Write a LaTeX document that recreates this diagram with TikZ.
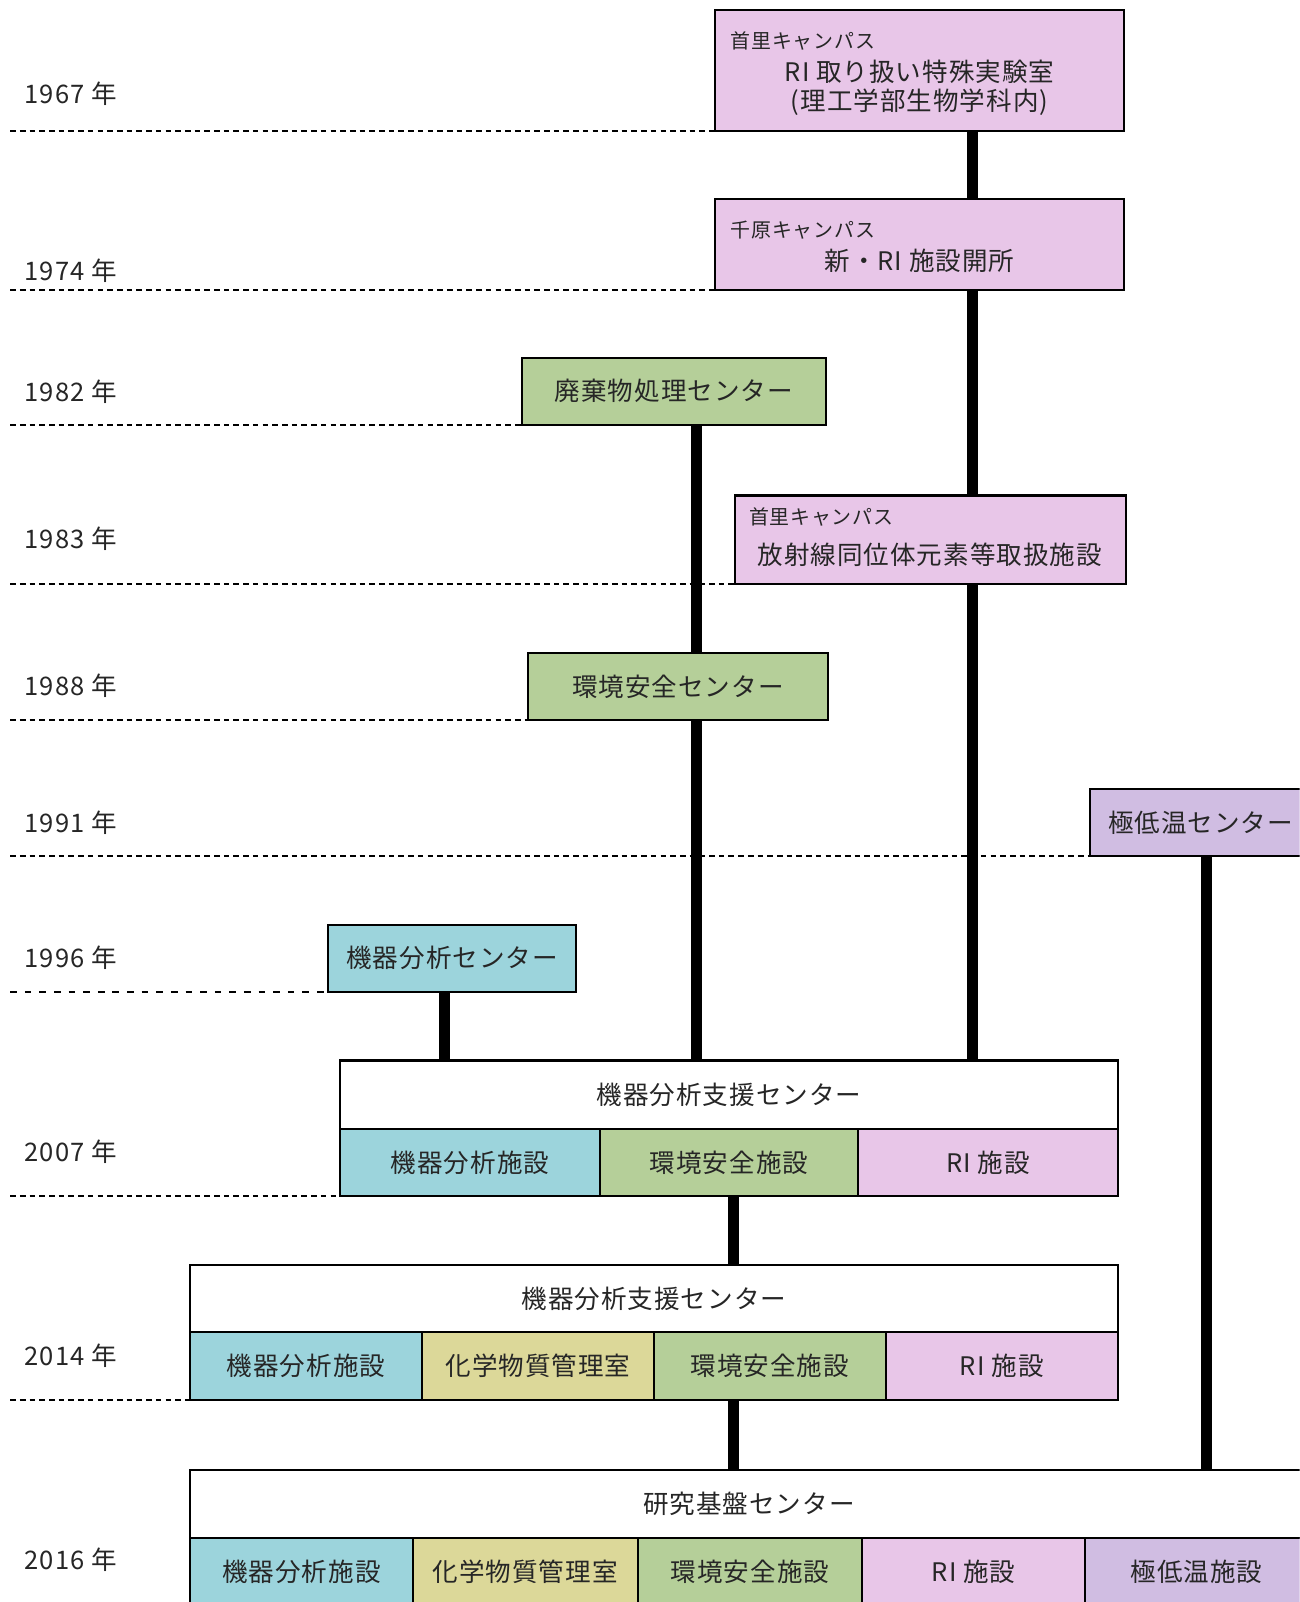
\documentclass[tikz,border=0pt]{standalone}
\usepackage{fontspec}
\setmainfont{Noto Sans CJK JP}
\newfontfamily\jpf[LetterSpace=4]{Noto Sans CJK JP}
\definecolor{cpink}{HTML}{E8C6E8}
\definecolor{cgreen}{HTML}{B5CF99}
\definecolor{cblue}{HTML}{9CD4DC}
\definecolor{clav}{HTML}{D0BDE2}
\definecolor{cyel}{HTML}{DCD899}
\definecolor{ctxt}{HTML}{262626}
\begin{document}
\begin{tikzpicture}[x=1pt,y=-1pt,
  box/.style={draw=black, line width=2pt, anchor=north west, inner sep=0pt, outer sep=0pt,
              font=\jpf\fontsize{25}{29}\selectfont, text=ctxt},
  small/.style={anchor=west, inner sep=0pt, font=\jpf\fontsize{19.5}{23}\selectfont, text=ctxt},
  main/.style={inner sep=0pt, font=\jpf\fontsize{25}{29}\selectfont, text=ctxt},
  year/.style={anchor=west, inner sep=0pt, font=\jpf\fontsize{25}{29}\selectfont, text=ctxt},
  dashA/.style={line width=1.9pt, dash pattern=on 5.5pt off 4pt},
  dashB/.style={line width=1.9pt, dash pattern=on 6.5pt off 7.8pt},
  conn/.style={line width=11pt, line cap=butt}]
\clip (0,0) rectangle (1272,1568);
\fill[white] (0,0) rectangle (1272,1568);

% boxes
\node[box, fill=cpink, minimum width=400pt, minimum height=118pt] (A) at (700,10) {};
\node[small] (A1) at (715,40) {首里キャンパス};
\node[main] (A2) at (900,70) {RI 取り扱い特殊実験室};
\node[main] (A3) at (900,100) {(理工学部生物学科内)};

\node[box, fill=cpink, minimum width=400pt, minimum height=89pt] (B) at (700,195) {};
\node[small] (B1) at (715,225) {千原キャンパス};
\node[main] (B2) at (900,255) {新・RI 施設開所};

\node[box, fill=cgreen, minimum width=297pt, minimum height=66pt] (C) at (511,350) {廃棄物処理センター};

\node[box, fill=cpink, minimum width=383pt, minimum height=87pt] (D) at (719,485) {};
\node[small] (D1) at (733,506) {首里キャンパス};
\node[main] (D2) at (910,543) {放射線同位体元素等取扱施設};

\node[box, fill=cgreen, minimum width=293pt, minimum height=66pt] (E) at (517,639) {環境安全センター};

\node[box, fill=clav, minimum width=216pt, minimum height=66pt] (F) at (1067,772) {極低温センター};

\node[box, fill=cblue, minimum width=243pt, minimum height=66pt] (G) at (321,905) {機器分析センター};

% 2007
\node[box, fill=white, minimum width=761pt, minimum height=67pt] (Ht) at (333,1038) {機器分析支援センター};
\node[box, fill=cblue, minimum width=254pt, minimum height=66pt] (H1) at (333,1105) {機器分析施設};
\node[box, fill=cgreen, minimum width=253pt, minimum height=66pt] (H2) at (587,1105) {環境安全施設};
\node[box, fill=cpink, minimum width=254pt, minimum height=66pt] (H3) at (840,1105) {RI 施設};

% 2014
\node[box, fill=white, minimum width=908pt, minimum height=66pt] (It) at (186,1238) {機器分析支援センター};
\node[box, fill=cblue, minimum width=227pt, minimum height=66pt] (I1) at (186,1304) {機器分析施設};
\node[box, fill=cyel, minimum width=227pt, minimum height=66pt] (I2) at (413,1304) {化学物質管理室};
\node[box, fill=cgreen, minimum width=227pt, minimum height=66pt] (I3) at (640,1304) {環境安全施設};
\node[box, fill=cpink, minimum width=227pt, minimum height=66pt] (I4) at (867,1304) {RI 施設};

% 2016
\node[box, fill=white, minimum width=1094pt, minimum height=66pt] (Jt) at (186,1439) {研究基盤センター};
\node[box, fill=cblue, minimum width=218pt, minimum height=66pt] (J1) at (186,1505) {機器分析施設};
\node[box, fill=cyel, minimum width=220pt, minimum height=66pt] (J2) at (404,1505) {化学物質管理室};
\node[box, fill=cgreen, minimum width=220pt, minimum height=66pt] (J3) at (624,1505) {環境安全施設};
\node[box, fill=cpink, minimum width=218pt, minimum height=66pt] (J4) at (844,1505) {RI 施設};
\node[box, fill=clav, minimum width=218pt, minimum height=66pt] (J5) at (1062,1505) {極低温施設};

% year labels
\node[year] (y1967) at (24,92) {1967 年};
\node[year] (y1974) at (24,265) {1974 年};
\node[year] (y1982) at (24,383) {1982 年};
\node[year] (y1983) at (24,527) {1983 年};
\node[year] (y1988) at (24,671) {1988 年};
\node[year] (y1991) at (24,805) {1991 年};
\node[year] (y1996) at (24,937) {1996 年};
\node[year] (y2007) at (24,1127) {2007 年};
\node[year] (y2014) at (24,1327) {2014 年};
\node[year] (y2016) at (24,1527) {2016 年};

% dashed lines
\coordinate (lx) at (10,0);
\draw[dashA] (A.south west -| lx) -- (A.south west);
\draw[dashA] (B.south west -| lx) -- (B.south west);
\draw[dashA] (C.south west -| lx) -- (C.south west);
\draw[dashA] (D.south west -| lx) -- (D.south west);
\draw[dashA] (E.south west -| lx) -- (E.south west);
\draw[dashA] (F.south west -| lx) -- (F.south west);
\draw[dashB] (G.south west -| lx) -- (G.south west);
\draw[dashA] (H1.south west -| lx) -- (H1.south west);
\draw[dashA] (I1.south west -| lx) -- (I1.south west);

% connectors
\coordinate (xri) at (952,0);
\coordinate (xenv) at (682,0);
\coordinate (xana) at (435,0);
\coordinate (xmid) at (718,0);
\coordinate (xcry) at (1181,0);
\draw[conn] (A.south -| xri) -- (B.north -| xri);
\draw[conn] (B.south -| xri) -- (D.north -| xri);
\draw[conn] (D.south -| xri) -- (Ht.north -| xri);
\draw[conn] (C.south -| xenv) -- (E.north -| xenv);
\draw[conn] (E.south -| xenv) -- (Ht.north -| xenv);
\draw[conn] (G.south -| xana) -- (Ht.north -| xana);
\draw[conn] (H2.south -| xmid) -- (It.north -| xmid);
\draw[conn] (I3.south -| xmid) -- (Jt.north -| xmid);
\draw[conn] (F.south -| xcry) -- (Jt.north -| xcry);
\end{tikzpicture}
\end{document}
